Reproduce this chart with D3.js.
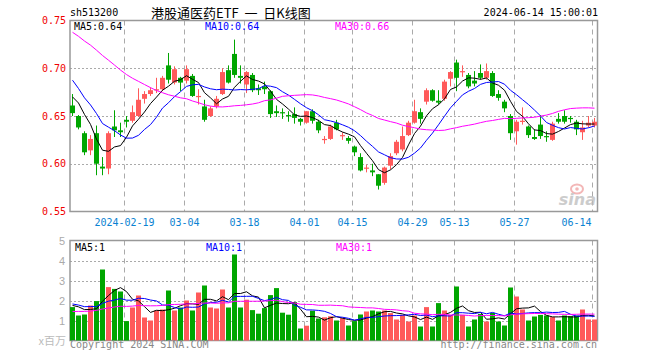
<!DOCTYPE html>
<html><head><meta charset="utf-8">
<script src="https://cdn.jsdelivr.net/npm/d3@7"></script>
<style>body{margin:0;background:#fff}svg{display:block}</style>
</head><body><svg id="c" width="660" height="360"></svg>
<script>
const dates = ["2024-01-29","2024-01-30","2024-01-31","2024-02-01","2024-02-02","2024-02-05","2024-02-06","2024-02-07","2024-02-08",
"2024-02-19","2024-02-20","2024-02-21","2024-02-22","2024-02-23","2024-02-26","2024-02-27","2024-02-28","2024-02-29",
"2024-03-01","2024-03-04","2024-03-05","2024-03-06","2024-03-07","2024-03-08","2024-03-11","2024-03-12","2024-03-13","2024-03-14","2024-03-15",
"2024-03-18","2024-03-19","2024-03-20","2024-03-21","2024-03-22","2024-03-25","2024-03-26","2024-03-27","2024-03-28","2024-03-29",
"2024-04-01","2024-04-02","2024-04-03","2024-04-08","2024-04-09","2024-04-10","2024-04-11","2024-04-12",
"2024-04-15","2024-04-16","2024-04-17","2024-04-18","2024-04-19","2024-04-22","2024-04-23","2024-04-24","2024-04-25","2024-04-26",
"2024-04-29","2024-04-30","2024-05-06","2024-05-07","2024-05-08","2024-05-09","2024-05-10",
"2024-05-13","2024-05-14","2024-05-15","2024-05-16","2024-05-17","2024-05-20","2024-05-21","2024-05-22","2024-05-23","2024-05-24",
"2024-05-27","2024-05-28","2024-05-29","2024-05-30","2024-05-31","2024-06-03","2024-06-04","2024-06-05","2024-06-06","2024-06-07",
"2024-06-11","2024-06-12","2024-06-13","2024-06-14"];
const opens = [0.661,0.650,0.632,0.614,0.632,0.597,0.595,0.639,0.635,0.646,0.645,0.650,0.668,0.673,0.677,0.678,0.703,0.685,0.690,0.687,
0.692,0.670,0.660,0.650,0.660,0.673,0.698,0.715,0.692,0.683,0.693,0.679,0.681,0.676,0.655,0.654,0.651,0.652,0.647,0.643,
0.655,0.644,0.625,0.626,0.643,0.629,0.627,0.618,0.607,0.595,0.593,0.589,0.580,0.598,0.611,0.615,0.630,0.643,0.654,0.665,
0.677,0.666,0.668,0.689,0.706,0.696,0.693,0.687,0.695,0.690,0.695,0.673,0.665,0.650,0.634,0.644,0.639,0.628,0.641,0.629,
0.625,0.647,0.650,0.648,0.644,0.633,0.640,0.640];
const highs = [0.673,0.651,0.634,0.630,0.640,0.607,0.634,0.656,0.643,0.650,0.661,0.679,0.676,0.680,0.690,0.692,0.716,0.702,0.691,0.703,
0.694,0.678,0.667,0.660,0.671,0.700,0.703,0.730,0.703,0.697,0.695,0.683,0.686,0.677,0.661,0.658,0.655,0.659,0.648,0.655,
0.657,0.646,0.629,0.641,0.646,0.633,0.629,0.619,0.611,0.599,0.600,0.589,0.597,0.611,0.625,0.639,0.645,0.667,0.658,0.679,
0.678,0.677,0.688,0.697,0.709,0.703,0.695,0.697,0.704,0.705,0.697,0.677,0.667,0.652,0.646,0.659,0.640,0.636,0.651,0.634,
0.644,0.653,0.656,0.650,0.646,0.645,0.650,0.648];
const lows = [0.650,0.636,0.609,0.609,0.588,0.588,0.589,0.628,0.628,0.638,0.643,0.649,0.663,0.671,0.674,0.676,0.684,0.683,0.676,0.684,
0.670,0.662,0.644,0.649,0.658,0.672,0.684,0.690,0.684,0.674,0.675,0.672,0.673,0.648,0.649,0.647,0.644,0.642,0.640,0.642,
0.642,0.632,0.621,0.625,0.635,0.625,0.621,0.608,0.592,0.591,0.587,0.573,0.578,0.594,0.609,0.613,0.629,0.642,0.642,0.662,
0.665,0.662,0.666,0.681,0.676,0.691,0.679,0.681,0.688,0.688,0.670,0.666,0.654,0.625,0.620,0.641,0.627,0.625,0.626,0.623,
0.624,0.642,0.642,0.643,0.630,0.625,0.638,0.638];
const closes = [0.653,0.638,0.612,0.626,0.600,0.595,0.632,0.635,0.633,0.644,0.654,0.667,0.673,0.677,0.678,0.690,0.688,0.699,0.685,0.699,
0.671,0.671,0.646,0.658,0.668,0.696,0.685,0.693,0.690,0.696,0.677,0.677,0.678,0.652,0.653,0.653,0.650,0.648,0.644,0.655,
0.645,0.635,0.626,0.639,0.636,0.630,0.624,0.612,0.593,0.596,0.591,0.577,0.596,0.608,0.623,0.629,0.643,0.655,0.647,0.677,
0.666,0.664,0.686,0.696,0.690,0.697,0.681,0.684,0.690,0.697,0.671,0.669,0.658,0.632,0.644,0.645,0.630,0.626,0.629,0.628,
0.642,0.644,0.644,0.647,0.636,0.638,0.643,0.644];
// volume, millions of shares
const volumes = [1.67,1.25,1.30,1.75,1.97,3.55,2.67,2.58,2.45,0.97,1.65,2.25,1.15,1.00,1.50,1.55,2.50,1.50,1.65,2.00,
1.50,2.40,2.75,1.65,1.60,2.55,1.65,4.30,1.65,2.04,1.52,1.34,1.62,2.27,2.62,1.39,1.29,1.92,0.60,0.74,
1.49,1.10,1.16,1.21,1.00,1.12,0.75,0.97,1.30,1.45,1.50,1.45,1.50,1.37,1.05,1.28,0.95,1.25,0.70,1.67,
0.70,1.87,1.50,1.28,2.70,1.28,0.70,1.05,1.33,0.95,1.38,0.95,0.75,2.65,2.20,1.55,1.00,1.20,1.28,1.25,
1.17,1.00,1.25,1.22,1.25,1.55,1.05,1.05];
// sessions before the first visible day (estimated from where the MA lines start)
const priorCloses = [0.765,0.760,0.755,0.758,0.762,0.780,0.788,0.790,0.785,0.770,0.765,0.772,0.775,0.768,0.760,
0.752,0.745,0.735,0.728,0.742,0.725,0.710,0.700,0.690,0.700,0.670,0.672,0.678,0.677];
const priorVolumes = [1.1,1.3,1.2,1.0,1.4,1.2,1.1,1.3,1.2,1.2,1.3,1.5,1.2,1.4,1.1,1.3,1.2,1.4,1.5,1.3,
1.8,2.1,1.7,2.0,1.9,1.6,2.0,1.7,1.8];
const tickDates = ["2024-02-19","2024-03-04","2024-03-18","2024-04-01","2024-04-15","2024-04-29","2024-05-13","2024-05-27","2024-06-14"];
const tickLabels = ["2024-02-19","03-04","03-18","04-01","04-15","04-29","05-13","05-27","06-14"];
const priceTicks = [0.75,0.70,0.65,0.60,0.55];
const priceGrid = [0.70,0.65,0.60];
const volTicks = [5,4,3,2,1];
const maPeriods = [5,10,30];
const maColors = ["#000000","#0000ff","#ff00ff"];
const code = "sh513200", title = "港股通医药ETF  一  日K线图", stamp = "2024-06-14 15:00:01";

const UP = "#ff5a5a", DOWN = "#00a600";
const MONO = "'DejaVu Sans Mono', monospace";
const svg = d3.select("#c");
const L = 70, R = 597.5;
const x = d3.scaleBand().domain(dates).range([69.5, 597.5]).paddingInner(1/6).paddingOuter(1/12);
const bw = x.bandwidth();
const cx = d => x(d) + bw/2;
const y = d3.scaleLinear().domain([0.55, 0.75]).range([211.5, 20.5]);
const yv = d3.scaleLinear().domain([0, 5]).range([340.5, 240.5]);

function movingAvg(prior, vals, n) {
  const all = prior.concat(vals), off = prior.length;
  return vals.map((_, i) => d3.mean(all.slice(i + off - n + 1, i + off + 1)));
}
const maP = maPeriods.map(n => movingAvg(priorCloses, closes, n));
const maV = maPeriods.map(n => movingAvg(priorVolumes, volumes, n));

// header
svg.append("text").attr("x", 70).attr("y", 16).attr("font-family", MONO).attr("font-size", 10).text(code);
svg.append("text").attr("x", 151).attr("y", 18).attr("font-family", "'Noto Sans CJK SC', sans-serif").attr("font-size", 13)
  .style("white-space", "pre").attr("xml:space", "preserve").text(title);
svg.append("text").attr("x", 598).attr("y", 16).attr("text-anchor", "end").attr("font-family", MONO).attr("font-size", 10).text(stamp);

svg.append("defs").html('<clipPath id="cp"><rect x="70" y="20.5" width="527.5" height="191"/></clipPath><clipPath id="cv"><rect x="70" y="240.5" width="527.5" height="100"/></clipPath>');

function panel(top, bottom, yScale, hTicks) {
  const g = svg.append("g");
  g.selectAll(".h").data(hTicks).join("line")
    .attr("x1", L).attr("x2", R).attr("y1", d => Math.round(yScale(d)) + 0.5).attr("y2", d => Math.round(yScale(d)) + 0.5)
    .attr("stroke", "#aaa").attr("stroke-dasharray", "2,2");
  g.selectAll(".v").data(tickDates).join("line")
    .attr("x1", d => x(d) + 0.5).attr("x2", d => x(d) + 0.5).attr("y1", top).attr("y2", bottom)
    .attr("stroke", "#aaa").attr("stroke-dasharray", "5,4");
  g.append("rect").attr("x", L).attr("y", top).attr("width", R - L).attr("height", bottom - top)
    .attr("fill", "none").attr("stroke", "#999").attr("stroke-width", 1.5);
}
panel(20.5, 211.5, y, priceGrid);
panel(240.5, 340.5, yv, [4,3,2,1]);

// price axis
const ya = svg.append("g").attr("transform", `translate(${L},0)`)
  .call(d3.axisLeft(y).tickValues(priceTicks).tickFormat(d3.format(".2f")).tickSize(0).tickPadding(4));
ya.select(".domain").remove();
ya.selectAll("text").attr("fill", "#f00000").attr("font-family", MONO).attr("font-size", 10);

// date axis
const xa = svg.append("g").attr("transform", `translate(-2,211.5)`)
  .call(d3.axisBottom(x).tickValues(tickDates).tickFormat(d => tickLabels[tickDates.indexOf(d)]).tickSize(0).tickPadding(7));
xa.select(".domain").remove();
xa.selectAll("text").attr("fill", "#0a82d2").attr("font-family", MONO).attr("font-size", 10);
xa.selectAll("text").filter(d => d === tickDates[tickDates.length - 1]).attr("text-anchor", "end").attr("x", -1);

// volume axis
const va = svg.append("g").attr("transform", `translate(${L},0)`)
  .call(d3.axisLeft(yv).tickValues(volTicks).tickFormat(d3.format("d")).tickSize(0).tickPadding(5));
va.select(".domain").remove();
va.selectAll("text").attr("fill", "#aaa").attr("font-family", "'Liberation Sans', Arial, sans-serif").attr("font-size", 11);
svg.append("text").attr("x", 66).attr("y", 345).attr("text-anchor", "end").attr("fill", "#bbb")
  .attr("font-family", "'Noto Sans CJK SC', sans-serif").attr("font-size", 11).text("x百万");

// candles
const idx = d3.range(dates.length);
const cg = svg.append("g");
cg.selectAll("line").data(idx).join("line")
  .attr("x1", i => cx(dates[i])).attr("x2", i => cx(dates[i]))
  .attr("y1", i => y(highs[i])).attr("y2", i => y(lows[i]))
  .attr("stroke", i => closes[i] >= opens[i] ? UP : DOWN).attr("stroke-width", 1);
cg.selectAll("rect").data(idx).join("rect")
  .attr("x", i => x(dates[i])).attr("width", bw)
  .attr("y", i => y(Math.max(opens[i], closes[i])))
  .attr("height", i => Math.max(1.2, Math.abs(y(opens[i]) - y(closes[i]))))
  .attr("fill", i => closes[i] >= opens[i] ? UP : DOWN);

// volume bars
svg.append("g").selectAll("rect").data(idx).join("rect")
  .attr("x", i => x(dates[i])).attr("width", bw)
  .attr("y", i => yv(volumes[i])).attr("height", i => yv(0) - yv(volumes[i]))
  .attr("fill", i => closes[i] >= opens[i] ? UP : DOWN);

// moving-average lines
maP.forEach((arr, k) => {
  svg.append("path").attr("clip-path", "url(#cp)").attr("fill", "none").attr("stroke", maColors[k]).attr("stroke-width", 1)
    .attr("d", d3.line().x((_, i) => cx(dates[i])).y(v => y(v))(arr));
});
maV.forEach((arr, k) => {
  svg.append("path").attr("clip-path", "url(#cv)").attr("fill", "none").attr("stroke", maColors[k]).attr("stroke-width", 1)
    .attr("d", d3.line().x((_, i) => cx(dates[i])).y(v => yv(v))(arr));
});

// legends
const lx = [74, 205, 335];
const last = dates.length - 1;
maPeriods.forEach((n, k) => {
  svg.append("text").attr("x", lx[k]).attr("y", 30).attr("fill", maColors[k]).attr("font-family", MONO).attr("font-size", 10)
    .text(`MA${n}:${maP[k][last].toFixed(2)}`);
  svg.append("text").attr("x", lx[k] + 1).attr("y", 250.5).attr("fill", maColors[k]).attr("font-family", MONO).attr("font-size", 10)
    .text(`MA${n}:${Math.round(maV[k][last])}`);
});

// watermark
const wm = svg.append("g").attr("opacity", 0.75);
wm.append("ellipse").attr("cx", 577).attr("cy", 189).attr("rx", 6).attr("ry", 4.5).attr("fill", "none").attr("stroke", "#f0a0a0").attr("stroke-width", 2);
wm.append("circle").attr("cx", 577).attr("cy", 189).attr("r", 1.8).attr("fill", "#f0a0a0");
wm.append("text").attr("x", 596).attr("y", 205).attr("text-anchor", "end").attr("fill", "#bbb")
  .attr("font-family", "'DejaVu Sans', sans-serif").attr("font-weight", "bold").attr("font-style", "italic").attr("font-size", 16).text("sina");

// footer
svg.append("text").attr("x", 70).attr("y", 348).attr("fill", "#888").attr("font-family", MONO).attr("font-size", 10).text("Copyright 2024 SINA.COM");
svg.append("text").attr("x", 597).attr("y", 348).attr("text-anchor", "end").attr("fill", "#888").attr("font-family", MONO).attr("font-size", 10).text("http://finance.sina.com.cn");
</script></body></html>
